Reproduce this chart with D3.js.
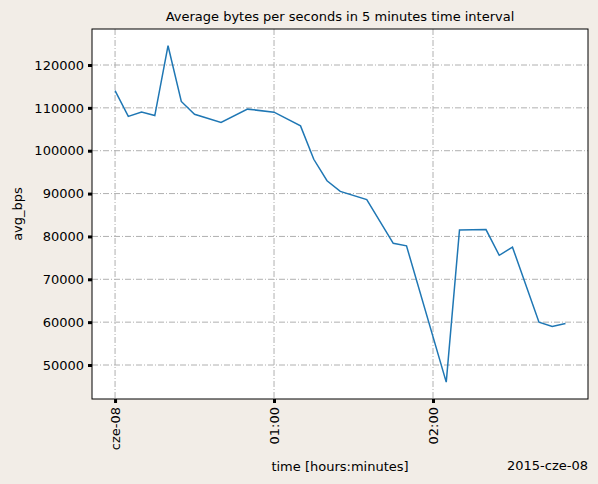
<!DOCTYPE html>
<html><head><meta charset="utf-8">
<script src="https://cdn.jsdelivr.net/npm/d3@7"></script>
<style>
body{margin:0;background:#f2ede7;font-family:"DejaVu Sans",sans-serif;}
</style></head>
<body>
<script>
// minutes after 00:00 on 2015-06-08
var minutes = [0, 5, 10, 15, 20, 25, 30, 40, 50, 60, 70, 75, 80, 85, 95, 105, 110, 125, 130, 140, 145, 150, 160, 165, 170];
var avgBps = [114000, 108000, 109000, 108200, 124500, 111500, 108500, 106600, 109700, 109000, 105800, 98000, 93000, 90500, 88600, 78400, 77800, 46000, 81500, 81600, 75600, 77500, 60000, 59000, 59700];
var yTicks = [50000, 60000, 70000, 80000, 90000, 100000, 110000, 120000];
var xTicks = [0, 60, 120];
var xTickLabels = ["cze-08", "01:00", "02:00"];

var width = 598, height = 484;
var padL = 92, padR = 588, padT = 29, padB = 399;

var svg = d3.select("body").append("svg")
    .attr("width", width)
    .attr("height", height);

var x = d3.scaleLinear().domain([-8.7, 178.5]).range([padL, padR]);
var y = d3.scaleLinear().domain([42067, 128400]).range([padB, padT]);

svg.append("rect")
    .attr("x", padL).attr("y", padT)
    .attr("width", padR - padL).attr("height", padB - padT)
    .attr("fill", "#fff");

// grid
svg.selectAll(".hg").data(yTicks).enter().append("line")
    .attr("x1", padL).attr("x2", padR)
    .attr("y1", function (d) { return y(d); }).attr("y2", function (d) { return y(d); })
    .attr("stroke", "#b0b0b0").attr("stroke-dasharray", "6,2,1,2");
svg.selectAll(".vg").data(xTicks).enter().append("line")
    .attr("y1", padT).attr("y2", padB)
    .attr("x1", function (d) { return x(d); }).attr("x2", function (d) { return x(d); })
    .attr("stroke", "#b0b0b0").attr("stroke-dasharray", "6,2,1,2");

var line = d3.line()
    .x(function (d, i) { return x(minutes[i]); })
    .y(function (d) { return y(d); });

svg.append("path")
    .datum(avgBps)
    .attr("d", line)
    .attr("fill", "none")
    .attr("stroke", "#1f77b4")
    .attr("stroke-width", 1.5);

// axes
var yAxis = svg.append("g")
    .attr("transform", "translate(" + padL + ",0)")
    .call(d3.axisLeft(y).tickValues(yTicks).tickSize(4).tickPadding(4).tickFormat(d3.format("d")));
yAxis.selectAll("line").attr("stroke-width", 3);
var xAxis = svg.append("g")
    .attr("transform", "translate(0," + padB + ")")
    .call(d3.axisBottom(x).tickValues(xTicks).tickSize(4)
        .tickFormat(function (d, i) { return xTickLabels[i]; }));
xAxis.selectAll("line").attr("stroke-width", 3);
xAxis.selectAll("text")
    .attr("transform", "rotate(-90)")
    .attr("x", -8).attr("y", 0).attr("dy", "0.35em")
    .style("text-anchor", "end");
svg.selectAll(".domain").remove();
svg.selectAll(".tick text").attr("font-size", 13).attr("font-family", "DejaVu Sans").attr("fill", "#000");

svg.append("rect")
    .attr("x", padL).attr("y", padT)
    .attr("width", padR - padL).attr("height", padB - padT)
    .attr("fill", "none").attr("stroke", "#000");

svg.append("text").attr("x", (padL + padR) / 2).attr("y", 21)
    .attr("text-anchor", "middle").attr("font-size", 13).text("Average bytes per seconds in 5 minutes time interval");
svg.append("text").attr("transform", "translate(22," + ((padT + padB) / 2) + ") rotate(-90)")
    .attr("text-anchor", "middle").attr("font-size", 13).text("avg_bps");
svg.append("text").attr("x", 340).attr("y", 471)
    .attr("text-anchor", "middle").attr("font-size", 13).text("time [hours:minutes]");
svg.append("text").attr("x", 588).attr("y", 470)
    .attr("text-anchor", "end").attr("font-size", 13).text("2015-cze-08");
</script>
</body></html>
